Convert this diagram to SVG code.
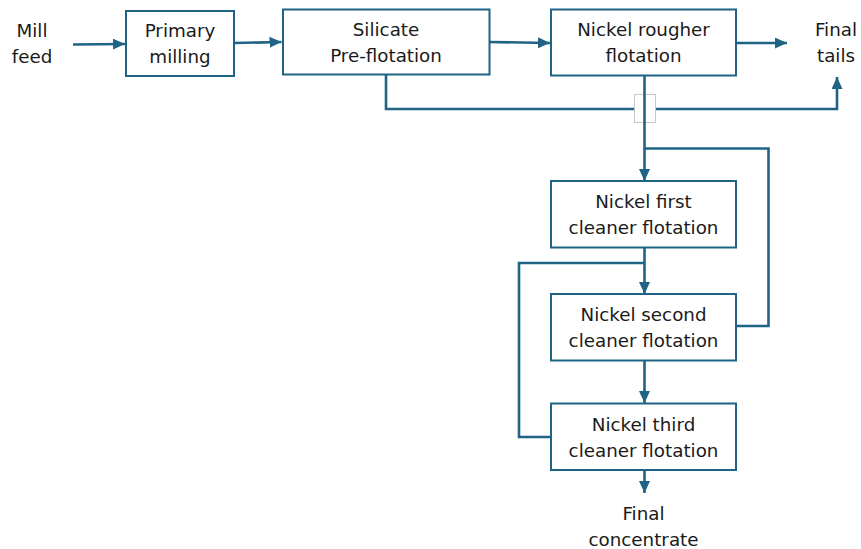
<svg xmlns="http://www.w3.org/2000/svg" width="861" height="549" viewBox="0 0 861 549">
<style>
.box{fill:#fff;stroke:#1f6385;stroke-width:2}
.t{font-family:"DejaVu Sans",sans-serif;font-size:18.3px;fill:#1a1a1a;text-anchor:middle}
.c{fill:none;stroke:#1f6385;stroke-width:2.6}
</style>
<defs>
<marker id="ah" markerUnits="userSpaceOnUse" markerWidth="12" markerHeight="11" refX="12" refY="5.5" orient="auto">
<path d="M0,0 L12,5.5 L0,11 z" fill="#1f6385"/>
</marker>
</defs>
<g id="connectors">
<path class="c" d="M73,44.5 L125,44" marker-end="url(#ah)"/>
<path class="c" d="M234,43 L281.5,42" marker-end="url(#ah)"/>
<path class="c" d="M489.5,42 L550,43" marker-end="url(#ah)"/>
<path class="c" d="M736,43 L787,43" marker-end="url(#ah)"/>
<path class="c" d="M386,75 V109 H837 V77" marker-end="url(#ah)"/>
<rect x="634.5" y="94.5" width="21" height="28" fill="#fff" stroke="#c8c8c8" stroke-width="1"/>
<path class="c" d="M644.5,76 V181" marker-end="url(#ah)"/>
<path class="c" d="M736,326 H768.5 V148.5 H644.5"/>
<path class="c" d="M644.5,248 V294" marker-end="url(#ah)"/>
<path class="c" d="M551,437 H519 V263 H644.5"/>
<path class="c" d="M644.5,361 V403" marker-end="url(#ah)"/>
<path class="c" d="M644.5,470 V493" marker-end="url(#ah)"/>
</g>
<g id="mill-feed"><text class="t" x="32" y="37">Mill</text><text class="t" x="32" y="63">feed</text></g>
<g id="primary-milling"><rect class="box" x="126" y="11" width="108" height="65"/><text class="t" x="180" y="37">Primary</text><text class="t" x="180" y="63">milling</text></g>
<g id="silicate"><rect class="box" x="283" y="9.5" width="206.5" height="65"/><text class="t" x="386" y="36">Silicate</text><text class="t" x="386" y="62">Pre-flotation</text></g>
<g id="rougher"><rect class="box" x="551" y="9.5" width="185" height="66"/><text class="t" x="643.5" y="36">Nickel rougher</text><text class="t" x="643.5" y="62">flotation</text></g>
<g id="final-tails"><text class="t" x="836" y="36">Final</text><text class="t" x="836" y="62">tails</text></g>
<g id="first-cleaner"><rect class="box" x="551" y="181" width="185" height="66.5"/><text class="t" x="643.5" y="208">Nickel first</text><text class="t" x="643.5" y="234">cleaner flotation</text></g>
<g id="second-cleaner"><rect class="box" x="551" y="294" width="185" height="66.5"/><text class="t" x="643.5" y="321">Nickel second</text><text class="t" x="643.5" y="347">cleaner flotation</text></g>
<g id="third-cleaner"><rect class="box" x="551" y="403.5" width="185" height="66.5"/><text class="t" x="643.5" y="431">Nickel third</text><text class="t" x="643.5" y="457">cleaner flotation</text></g>
<g id="final-concentrate"><text class="t" x="643.5" y="520">Final</text><text class="t" x="643.5" y="546">concentrate</text></g>
</svg>
